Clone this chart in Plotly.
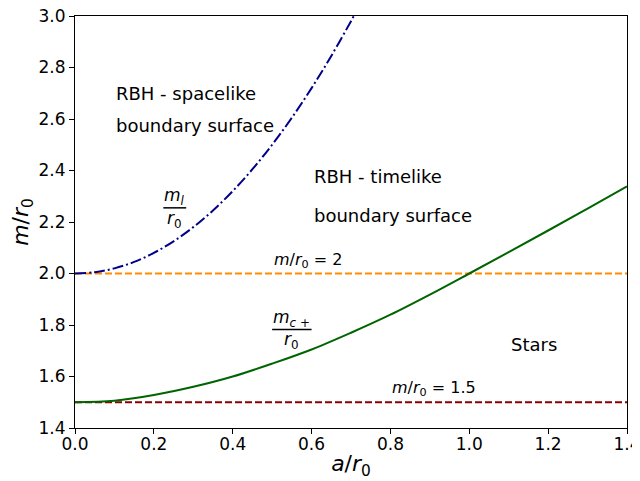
import plotly.graph_objects as go

# Data
a_l = [0.0, 0.05, 0.1, 0.15, 0.2, 0.25, 0.3, 0.35, 0.4, 0.45, 0.5, 0.55, 0.6, 0.65, 0.7, 0.707]
m_l = [2.0, 2.005, 2.02, 2.045, 2.08, 2.125, 2.18, 2.245, 2.32, 2.405, 2.5, 2.605, 2.72, 2.845, 2.98, 3.0]

a_c = [0.0, 0.1, 0.2, 0.3, 0.4, 0.5, 0.6, 0.7, 0.8, 0.9, 1.0, 1.1, 1.2, 1.3, 1.4]
m_c = [1.5, 1.506, 1.528, 1.56, 1.60, 1.65, 1.705, 1.77, 1.84, 1.918, 2.0, 2.083, 2.167, 2.252, 2.338]

a_h = [0.0, 1.4]
m_two = [2.0, 2.0]
m_three_halves = [1.5, 1.5]

x_ticks = [0.0, 0.2, 0.4, 0.6, 0.8, 1.0, 1.2, 1.4]
y_ticks = [1.4, 1.6, 1.8, 2.0, 2.2, 2.4, 2.6, 2.8, 3.0]

FONT = "DejaVu Sans"

fig = go.Figure()
fig.add_trace(go.Scatter(x=a_h, y=m_two, mode="lines",
                         line=dict(color="#FF8C00", width=2, dash="7px,3px")))
fig.add_trace(go.Scatter(x=a_h, y=m_three_halves, mode="lines",
                         line=dict(color="#8B0000", width=2, dash="7px,3px")))
fig.add_trace(go.Scatter(x=a_l, y=m_l, mode="lines", line_shape="spline",
                         line=dict(color="#00008B", width=2, dash="11px,3px,2px,3px")))
fig.add_trace(go.Scatter(x=a_c, y=m_c, mode="lines", line_shape="spline",
                         line=dict(color="#006400", width=2)))

def txt(x, y, s, size=18, xanchor="left"):
    fig.add_annotation(x=x, y=y, text=s, showarrow=False, xanchor=xanchor,
                       yanchor="middle", font=dict(family=FONT, size=size, color="black"))

txt(0.1, 2.698, "RBH - spacelike")
txt(0.1, 2.574, "boundary surface")
txt(0.6, 2.375, "RBH - timelike")
txt(0.6, 2.227, "boundary surface")
txt(1.1, 1.726, "Stars")
txt(0.5, 2.05, "<i>m</i>/<i>r</i><sub>0</sub> = 2", size=16)
txt(0.8, 1.555, "<i>m</i>/<i>r</i><sub>0</sub> = 1.5", size=16)

# fractions
txt(0.253, 2.298, "<i>m<sub>l</sub></i>", size=17, xanchor="center")
txt(0.253, 2.21, "<i>r</i><sub>0</sub>", size=17, xanchor="center")
fig.add_shape(type="line", x0=0.224, x1=0.282, y0=2.255, y1=2.255,
              line=dict(color="black", width=1.5))
txt(0.55, 1.827, "<i>m<sub>c +</sub></i>", size=17, xanchor="center")
txt(0.55, 1.738, "<i>r</i><sub>0</sub>", size=17, xanchor="center")
fig.add_shape(type="line", x0=0.5, x1=0.6, y0=1.783, y1=1.783,
              line=dict(color="black", width=1.5))

axis_common = dict(showgrid=False, zeroline=False, showline=True, linecolor="black",
                   linewidth=1, mirror=True, ticks="outside", ticklen=5, tickwidth=1,
                   tickcolor="black", automargin=False, ticklabeloverflow="allow",
                   tickfont=dict(family=FONT, size=17, color="black"))

fig.update_xaxes(range=[0, 1.4], tickvals=x_ticks, tickformat=".1f",
                 ticklabelstandoff=-4,
                 title=dict(text="<i>a</i>/<i>r</i><sub>0</sub>",
                            font=dict(family=FONT, size=22, color="black"), standoff=2),
                 **axis_common)
fig.update_yaxes(range=[1.4, 3.0], tickvals=y_ticks, tickformat=".1f",
                 title=dict(text="<i>m</i>/<i>r</i><sub>0</sub>",
                            font=dict(family=FONT, size=22, color="black"), standoff=6),
                 **axis_common)

# the page adds an 8px body margin, so the figure is sized to fit what remains
fig.update_layout(width=632, height=473, showlegend=False,
                  plot_bgcolor="white", paper_bgcolor="white",
                  margin=dict(l=67, r=13, t=8, b=53))

fig.write_html("out.html")
